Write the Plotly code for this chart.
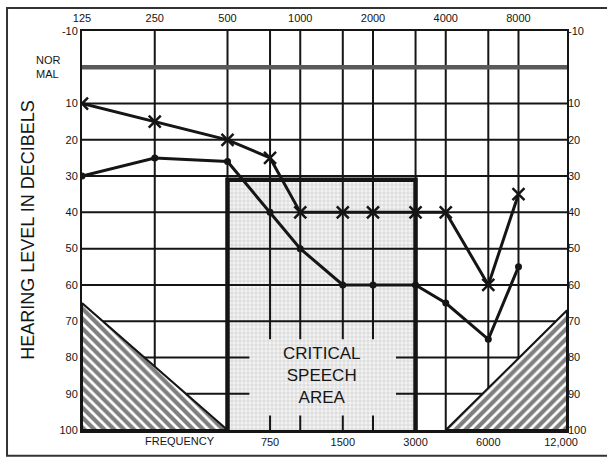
import plotly.graph_objects as go
import math

# ---------------- data ----------------
freqs = [125, 250, 500, 750, 1000, 1500, 2000, 3000, 4000, 6000, 8000]
x_series = [10, 15, 20, 25, 40, 40, 40, 40, 40, 60, 35]      # "X" markers
dot_series = [30, 25, 26, 40, 50, 60, 60, 60, 65, 75, 55]    # dot markers

top_ticks = [125, 250, 500, 1000, 2000, 4000, 8000]
top_labels = ["125", "250", "500", "1000", "2000", "4000", "8000"]
bottom_ticks = [750, 1500, 3000, 6000, 12000]
bottom_labels = ["750", "1500", "3000", "6000", "12,000"]
level_ticks = [-10, 10, 20, 30, 40, 50, 60, 70, 80, 90, 100]
level_labels = [str(v) for v in level_ticks]

# critical speech area (frequency span, level span)
speech_freq = [500, 3000]
speech_level = [31, 100]
# hatched regions (frequency, level corners)
left_hatch_f = [125, 500, 125]
left_hatch_l = [65, 100, 100]
right_hatch_f = [4000, 12700, 12700]
right_hatch_l = [100, 67, 100]

F_MIN, F_MAX = 125, 12700
L_MIN, L_MAX = -10, 100

FONT = "Liberation Sans, Arial, sans-serif"
INK = "#151515"

fig = go.Figure()

# critical speech area fill
fig.add_trace(go.Scatter(
    x=[speech_freq[0], speech_freq[1], speech_freq[1], speech_freq[0], speech_freq[0]],
    y=[speech_level[0], speech_level[0], speech_level[1], speech_level[1], speech_level[0]],
    fill="toself", mode="lines", line=dict(width=0),
    fillcolor="#f0f0f0",
    fillpattern=dict(shape="+", size=4, solidity=0.25, fgcolor="#949494", bgcolor="#f3f3f3"),
    hoverinfo="skip", showlegend=False))

# grid lines
gx, gy = [], []
def hline(level, f0, f1):
    gx.extend([f0, f1, None]); gy.extend([level, level, None])
def vline(f, l0, l1):
    gx.extend([f, f, None]); gy.extend([l0, l1, None])

for lv in [10, 20, 30, 40, 50, 60, 70]:
    hline(lv, F_MIN, F_MAX)
for lv in [80, 90]:
    hline(lv, F_MIN, 616)
    hline(lv, 2490, F_MAX)
for f in [250, 500, 4000, 6000, 8000]:
    vline(f, L_MIN, L_MAX)
for f in [750, 1000, 1500, 2000]:
    vline(f, L_MIN, 75)
    vline(f, 96, L_MAX)
vline(3000, L_MIN, speech_level[0])

fig.add_trace(go.Scatter(x=gx, y=gy, mode="lines", line=dict(color=INK, width=2),
                         hoverinfo="skip", showlegend=False))
# normal line
fig.add_trace(go.Scatter(x=[F_MIN, F_MAX], y=[0, 0], mode="lines",
                         line=dict(color="#5a5a5a", width=4.5),
                         hoverinfo="skip", showlegend=False))

# hatched triangles
fig.add_trace(go.Scatter(
    x=left_hatch_f + [left_hatch_f[0]], y=left_hatch_l + [left_hatch_l[0]],
    fill="toself", mode="lines", line=dict(color=INK, width=2),
    fillpattern=dict(shape="\\", size=7, solidity=0.6, fgcolor="#000", bgcolor="white"),
    hoverinfo="skip", showlegend=False))
fig.add_trace(go.Scatter(
    x=right_hatch_f + [right_hatch_f[0]], y=right_hatch_l + [right_hatch_l[0]],
    fill="toself", mode="lines", line=dict(color=INK, width=2),
    fillpattern=dict(shape="/", size=7, solidity=0.6, fgcolor="#000", bgcolor="white"),
    hoverinfo="skip", showlegend=False))

# critical area border
fig.add_trace(go.Scatter(
    x=[speech_freq[0], speech_freq[0], speech_freq[1], speech_freq[1]],
    y=[speech_level[1], speech_level[0], speech_level[0], speech_level[1]],
    mode="lines", line=dict(color=INK, width=4.5),
    hoverinfo="skip", showlegend=False))

# data series
fig.add_trace(go.Scatter(
    x=freqs, y=dot_series, mode="lines+markers",
    line=dict(color=INK, width=3),
    marker=dict(symbol="circle", size=7, color=INK),
    showlegend=False))
fig.add_trace(go.Scatter(
    x=freqs, y=x_series, mode="lines+markers",
    line=dict(color=INK, width=3),
    marker=dict(symbol="x-thin-open", size=12, color=INK, line=dict(width=2.5, color=INK)),
    showlegend=False))

# empty traces so the secondary (bottom / right) axes are drawn
fig.add_trace(go.Scatter(x=[None], y=[None], xaxis="x2", yaxis="y",
                         hoverinfo="skip", showlegend=False))
fig.add_trace(go.Scatter(x=[None], y=[None], xaxis="x", yaxis="y2",
                         hoverinfo="skip", showlegend=False))

log_range = [math.log10(F_MIN), math.log10(F_MAX)]
tickfont = dict(family=FONT, size=11, color=INK)

fig.update_layout(
    width=607, height=460,
    margin=dict(l=82, r=40, t=29, b=30),
    paper_bgcolor="white", plot_bgcolor="white",
    xaxis=dict(type="log", range=log_range, side="top", tickmode="array",
               tickvals=top_ticks, ticktext=top_labels, showgrid=False,
               zeroline=False, showline=True, mirror=True, linecolor=INK,
               linewidth=2, ticks="", tickfont=tickfont, ticklabelstandoff=3),
    xaxis2=dict(type="log", range=log_range, overlaying="x", side="bottom",
                anchor="y", tickmode="array", tickvals=bottom_ticks,
                ticktext=bottom_labels, showgrid=False, zeroline=False,
                showline=True, linecolor=INK, linewidth=3, ticks="",
                tickfont=tickfont),
    yaxis=dict(range=[L_MAX, L_MIN], tickmode="array", tickvals=level_ticks,
               ticktext=level_labels, showgrid=False, zeroline=False,
               showline=True, mirror=True, linecolor=INK, linewidth=2,
               ticks="", tickfont=tickfont),
    yaxis2=dict(range=[L_MAX, L_MIN], overlaying="y", side="right", anchor="x",
                tickmode="array", tickvals=level_ticks, ticktext=level_labels,
                showgrid=False, zeroline=False, showline=False, ticks="",
                tickfont=tickfont),
    shapes=[dict(type="rect", xref="paper", yref="paper",
                 x0=-0.1546, x1=1.093, y0=-0.0648, y1=1.0574,
                 line=dict(color="#333", width=2), fillcolor="rgba(0,0,0,0)",
                 layer="below")],
    annotations=[
        dict(text="CRITICAL<br>SPEECH<br>AREA", x=math.log10(1230), y=85,
             xref="x", yref="y", showarrow=False, xanchor="center", yanchor="middle",
             font=dict(family=FONT, size=17, color=INK)),
        dict(text="HEARING LEVEL IN DECIBELS", textangle=-90, x=-0.113, y=0.50,
             xref="paper", yref="paper", showarrow=False,
             xanchor="center", yanchor="middle",
             font=dict(family=FONT, size=18, color=INK)),
        dict(text="NOR<br>MAL", x=-0.07, y=0.91, xref="paper", yref="paper",
             showarrow=False, align="left", xanchor="center", yanchor="middle",
             font=dict(family=FONT, size=11, color=INK)),
        dict(text="FREQUENCY", x=math.log10(318), y=-0.027, xref="x", yref="paper",
             showarrow=False, xanchor="center", yanchor="middle",
             font=dict(family=FONT, size=11, color=INK)),
    ],
)

fig.write_html("out.html", config={"displayModeBar": False},
               post_script="document.body.style.margin='0';")
